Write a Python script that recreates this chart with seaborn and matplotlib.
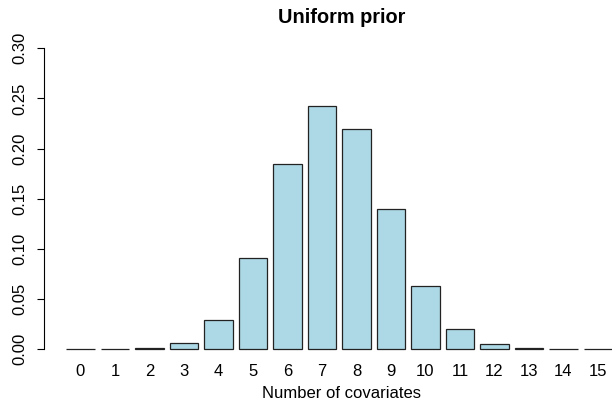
import matplotlib
matplotlib.use("Agg")
import matplotlib.pyplot as plt
import seaborn as sns
import pandas as pd

covariates = [str(i) for i in range(16)]
probs = [0.0002, 0.0004, 0.0009, 0.0057, 0.0289, 0.0911, 0.1843, 0.2424,
         0.2192, 0.1397, 0.0632, 0.0203, 0.0047, 0.0013, 0.0004, 0.0002]
ytick_vals = [0.00, 0.05, 0.10, 0.15, 0.20, 0.25, 0.30]
ytick_labels = ["0.00", "0.05", "0.10", "0.15", "0.20", "0.25", "0.30"]

sns.set_style("white")
plt.rcParams["font.family"] = ["Liberation Sans", "DejaVu Sans"]
plt.rcParams["text.color"] = "black"
plt.rcParams["axes.labelcolor"] = "black"
plt.rcParams["xtick.color"] = "black"
plt.rcParams["ytick.color"] = "black"

df = pd.DataFrame({"k": covariates, "p": probs})

fig = plt.figure(figsize=(6.12, 4.17), dpi=100)
ax = fig.add_axes([0.0714, 0.1343, 0.9743, 0.7787])

sns.barplot(data=df, x="k", y="p", order=covariates, color="#ADD8E6",
            saturation=1, width=0.833, edgecolor="#222222", linewidth=0.9, ax=ax)

ax.set_xlim(-1.064, 16.22)
ax.set_ylim(-0.012, 0.312)
for s in ["top", "right", "bottom"]:
    ax.spines[s].set_visible(False)
ax.spines["left"].set_bounds(0, 0.3)
ax.spines["left"].set_linewidth(0.8)
ax.spines["left"].set_color("black")

ax.set_yticks(ytick_vals)
ax.set_yticklabels(ytick_labels, rotation=90, va="center", fontsize=12)
ax.tick_params(axis="y", left=True, length=5.4, width=0.8, pad=6)
ax.tick_params(axis="x", bottom=False, length=0, pad=2.5, labelsize=12)

ax.set_xlabel("Number of covariates", fontsize=12, labelpad=5)
ax.set_ylabel("")
ax.set_title("Uniform prior", fontsize=14.3, fontweight="bold", pad=9.6)

fig.savefig("out.png", dpi=100)
